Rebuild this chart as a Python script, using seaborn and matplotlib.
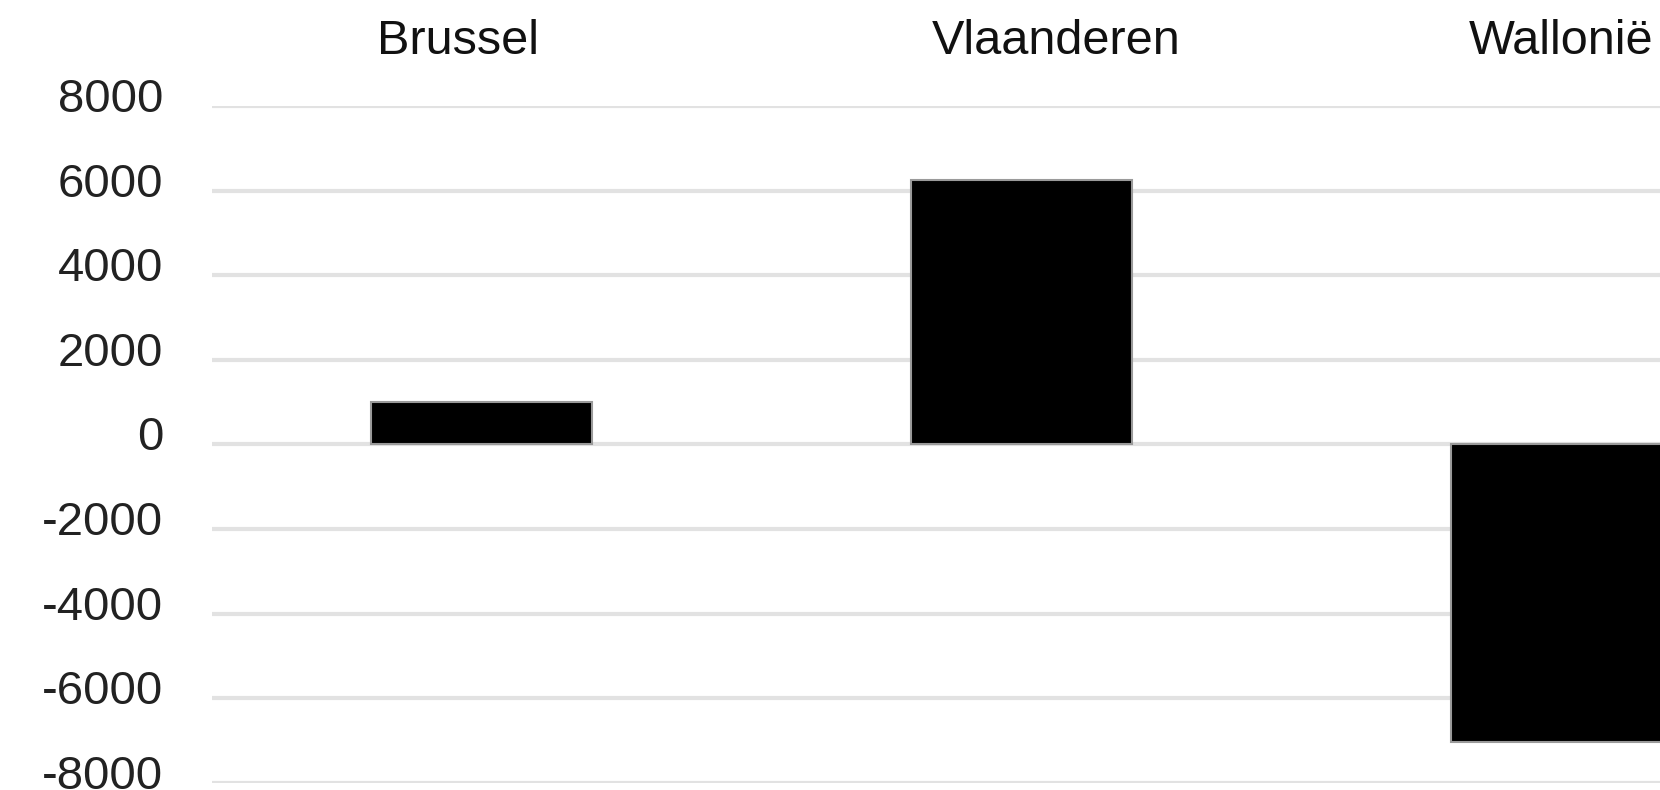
import seaborn as sns
import matplotlib.pyplot as plt
import matplotlib.transforms as mtransforms
import pandas as pd

# --- data ---
regions = ["Brussel", "Vlaanderen", "Wallonië"]
values = [1000, 6240, -7020]
y_ticks = [-8000, -6000, -4000, -2000, 0, 2000, 4000, 6000, 8000]

df = pd.DataFrame({"Regio": regions, "Waarde": values})

# --- style ---
sns.set_style("white")
plt.rcParams['font.family'] = ['Liberation Sans', 'DejaVu Sans']

fig = plt.figure(figsize=(16.6, 7.9), dpi=100)
ax = fig.add_axes([212 / 1660, 1 - 783 / 790, 1 - 212 / 1660, (783 - 106) / 790])

sns.barplot(data=df, x="Regio", y="Waarde", color="black", width=0.41,
            edgecolor="#9a9a9a", linewidth=1.5, saturation=1, ax=ax, zorder=3)

ax.set_ylim(-8000, 8000)
ax.set_xlim(-0.5, 2.183)
ax.set_yticks(y_ticks)
ax.set_yticklabels([str(t) for t in y_ticks])

# gridlines
ax.yaxis.grid(True, color="#e2e2e2", linewidth=3)
ax.xaxis.grid(False)
ax.set_axisbelow(True)

# category labels on top
ax.xaxis.tick_top()
ax.tick_params(axis="x", length=0, pad=30, labelsize=35, labelcolor="#111111")
ax.tick_params(axis="y", length=0, pad=35, labelsize=34, labelcolor="#222222")

# y labels sit a little above their gridlines
for lbl in ax.get_yticklabels():
    lbl.set_transform(lbl.get_transform() + mtransforms.ScaledTranslation(0, 8 / 72, fig.dpi_scale_trans))

# the top labels are not quite centred on the bars
x_shift = [-17, 25, 0]
for lbl, dx in zip(ax.get_xticklabels(), x_shift):
    lbl.set_transform(lbl.get_transform() + mtransforms.ScaledTranslation(dx / 72, 0, fig.dpi_scale_trans))

ax.set_xlabel("")
ax.set_ylabel("")
for s in ax.spines.values():
    s.set_visible(False)

fig.savefig("out.png", dpi=100)
plt.close(fig)
